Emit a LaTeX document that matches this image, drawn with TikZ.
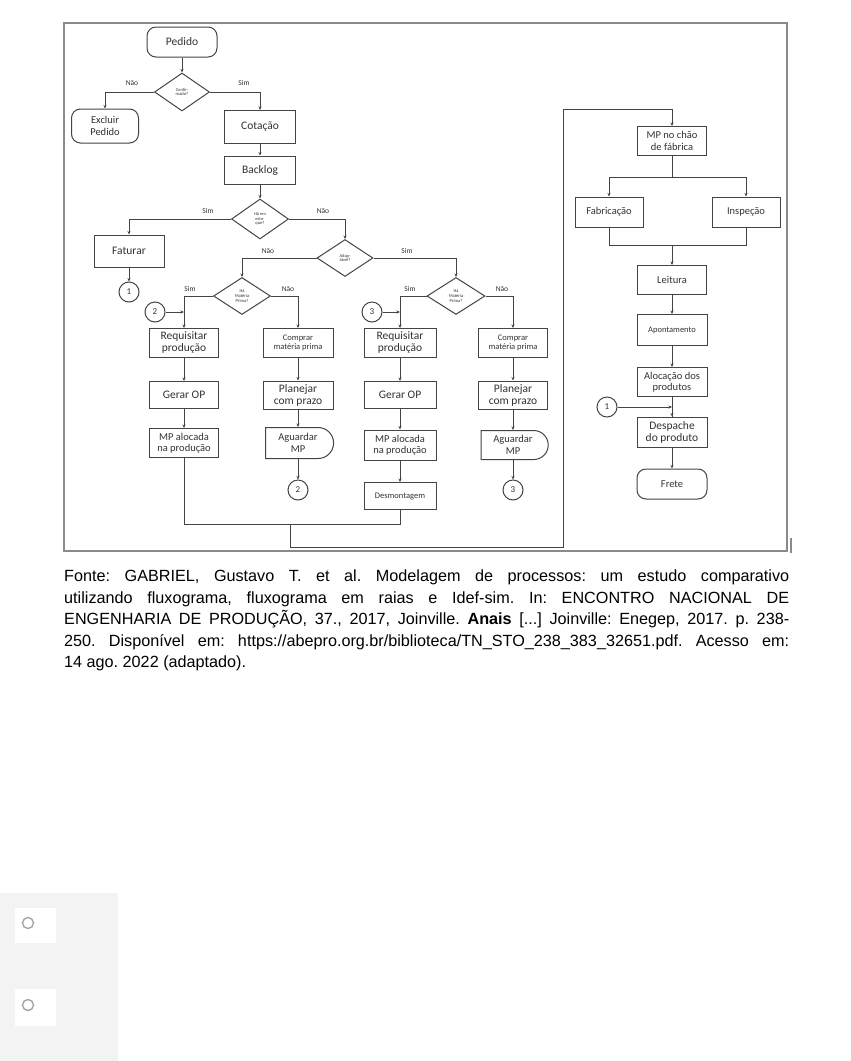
\documentclass[tikz,border=0pt]{standalone}
\usepackage{fontspec}
\setmainfont{Liberation Sans}
\newfontfamily\carl{Carlito}
\usetikzlibrary{shapes.geometric,shapes.misc,arrows.meta}
\definecolor{linec}{HTML}{444444}
\definecolor{txt}{HTML}{333333}
\definecolor{framec}{HTML}{8A8A8A}
\definecolor{panel}{HTML}{F3F3F3}
\frenchspacing
\begin{document}
\begin{tikzpicture}[x=1pt,y=-1pt,
  ln/.style={draw=linec, line width=1pt},
  arr/.style={-{Stealth[length=3.5pt,width=3pt]}},
  box/.style={draw=linec, line width=1pt, rectangle, inner sep=1pt, align=center, text=txt,
              font=\carl\fontsize{11.5}{12}\selectfont},
  term/.style={box, rounded corners=9pt},
  delaybox/.style={box, rounded rectangle, rounded rectangle west arc=none},
  dia/.style={draw=linec, line width=1pt, diamond, inner sep=0pt, align=center, text=txt,
              font=\carl\fontsize{4.5}{4.8}\selectfont},
  conn/.style={draw=linec, line width=1pt, circle, minimum size=20pt, inner sep=0pt, text=txt,
               font=\carl\fontsize{9}{9}\selectfont},
  lab/.style={font=\carl\fontsize{7.5}{7.5}\selectfont, text=txt, inner sep=0pt},
  small/.style={font=\carl\fontsize{8.5}{9.5}\selectfont},
  mid/.style={font=\carl\fontsize{10.5}{11.5}\selectfont}
]
\useasboundingbox (0,0) rectangle (851,1061);
\fill[white] (0,0) rectangle (851,1061);

% frame
\draw[framec, line width=1.3pt] (64,23) rectangle (787,551);
\draw[framec, line width=1.1pt] (791,538) -- (791,553);

% left part
\node[term, minimum width=70pt, minimum height=30pt] (ped) at (182,42) {Pedido};
\node[dia, minimum width=55pt, minimum height=38pt] (d1) at (182,92) {Confir-\\mado?};
\node[term, mid, minimum width=67pt, minimum height=34pt] (exc) at (105,126) {Excluir\\Pedido};
\node[box, minimum width=71pt, minimum height=33pt] (cot) at (260,127) {Cotação};
\node[box, minimum width=71pt, minimum height=28pt] (back) at (260,170) {Backlog};
\node[dia, minimum width=57pt, minimum height=40pt] (d2) at (260,219) {Há em\\esto-\\que?};
\node[dia, minimum width=56pt, minimum height=37pt] (d3) at (345,258) {Adap-\\tável?};
\node[box, minimum width=70pt, minimum height=32pt] (fat) at (129,251) {Faturar};
\node[conn] (c1) at (129,292) {1};
\node[dia, minimum width=57pt, minimum height=37pt] (d4) at (242,296) {Há\\Matéria\\Prima?};
\node[dia, minimum width=58pt, minimum height=37pt] (d5) at (456,296) {Há\\Matéria\\Prima?};
\node[conn] (c2a) at (155,312) {2};
\node[conn] (c3a) at (372,312) {3};

\node[box, minimum width=69pt, minimum height=29pt] (req1) at (184,343) {Requisitar\\produção};
\node[box, minimum width=69pt, minimum height=27pt] (ger1) at (184,395) {Gerar OP};
\node[box, mid, minimum width=69pt, minimum height=29pt] (mp1) at (184,443) {MP alocada\\na produção};
\node[box, small, minimum width=70pt, minimum height=29pt] (com1) at (298,343) {Comprar\\matéria prima};
\node[box, minimum width=70pt, minimum height=28pt] (pla1) at (298,395) {Planejar\\com prazo};
\node[delaybox, mid, minimum width=70pt, minimum height=31pt] (agu1) at (298,443) {Aguardar\\MP};
\node[conn] (c2b) at (298,490) {2};

\node[box, minimum width=72pt, minimum height=29pt] (req2) at (400,343) {Requisitar\\produção};
\node[box, minimum width=72pt, minimum height=27pt] (ger2) at (400,395) {Gerar OP};
\node[box, mid, minimum width=72pt, minimum height=30pt] (mp2) at (400,445) {MP alocada\\na produção};
\node[box, small, minimum width=72pt, minimum height=27pt] (desm) at (400,496) {Desmontagem};
\node[box, small, minimum width=69pt, minimum height=29pt] (com2) at (513,343) {Comprar\\matéria prima};
\node[box, minimum width=69pt, minimum height=28pt] (pla2) at (513,395) {Planejar\\com prazo};
\node[delaybox, mid, minimum width=69pt, minimum height=29pt] (agu2) at (513,445) {Aguardar\\MP};
\node[conn] (c3b) at (513,490) {3};

% labels
\node[lab] (l1) at (132,83) {Não};
\node[lab] (l2) at (244,83) {Sim};
\node[lab] (l3) at (208,211) {Sim};
\node[lab] (l4) at (323,211) {Não};
\node[lab] (l5) at (268,251) {Não};
\node[lab] (l6) at (407,251) {Sim};
\node[lab] (l7) at (190,289) {Sim};
\node[lab] (l8) at (288,289) {Não};
\node[lab] (l9) at (410,289) {Sim};
\node[lab] (l10) at (502,289) {Não};

% right part
\node[box, mid, minimum width=69pt, minimum height=29pt] (mpc) at (672,141) {MP no chão\\de fábrica};
\node[box, mid, minimum width=68pt, minimum height=30pt] (fab) at (609,212) {Fabricação};
\node[box, mid, minimum width=68pt, minimum height=30pt] (insp) at (746,212) {Inspeção};
\node[box, mid, minimum width=69pt, minimum height=29pt] (leit) at (672,280) {Leitura};
\node[box, small, minimum width=70pt, minimum height=31pt] (apon) at (672,330) {Apontamento};
\node[box, mid, minimum width=70pt, minimum height=29pt] (aloc) at (672,382) {Alocação dos\\produtos};
\node[conn] (c1b) at (607,407) {1};
\node[box, minimum width=70pt, minimum height=30pt] (desp) at (672,432) {Despache\\do produto};
\node[term, mid, minimum width=70pt, minimum height=30pt] (frete) at (672,484) {Frete};

% connectors left
\draw[ln,arr] (ped) -- (d1);
\draw[ln,arr] (d1.west) -| (exc.north);
\draw[ln,arr] (d1.east) -| (cot.north);
\draw[ln,arr] (cot) -- (back);
\draw[ln,arr] (back) -- (d2);
\draw[ln,arr] (d2.west) -| (fat.north);
\draw[ln,arr] (d2.east) -| (d3.north);
\draw[ln,arr] (fat) -- (c1);
\draw[ln,arr] (d3.west) -| (d4.north);
\draw[ln,arr] (d3.east) -| (d5.north);
\draw[ln,arr] (d4.west) -| (req1.north);
\draw[ln,arr] (d4.east) -| (com1.north);
\draw[ln,arr] (d5.west) -| (req2.north);
\draw[ln,arr] (d5.east) -| (com2.north);
\coordinate (p2) at (184,312);
\coordinate (p3) at (400,312);
\draw[ln,arr] (c2a) -- (p2);
\draw[ln,arr] (c3a) -- (p3);
\draw[ln,arr] (req1) -- (ger1);
\draw[ln,arr] (ger1) -- (mp1);
\draw[ln,arr] (com1) -- (pla1);
\draw[ln,arr] (pla1) -- (agu1.north -| pla1);
\draw[ln,arr] (agu1.south -| c2b) -- (c2b);
\draw[ln,arr] (req2) -- (ger2);
\draw[ln,arr] (ger2) -- (mp2);
\draw[ln,arr] (mp2) -- (desm);
\draw[ln,arr] (com2) -- (pla2);
\draw[ln,arr] (pla2) -- (agu2.north -| pla2);
\draw[ln,arr] (agu2.south -| c3b) -- (c3b);

% merge and link to right part
\coordinate (j) at (290,524);
\coordinate (k1) at (290,547);
\coordinate (k2) at (563,547);
\coordinate (k3) at (563,109);
\draw[ln] (mp1.south) |- (j);
\draw[ln] (desm.south) |- (j);
\draw[ln,arr] (j) -- (k1) -- (k2) -- (k3) -| (mpc.north);

% connectors right
\coordinate (s) at (672,177);
\coordinate (t) at (672,245);
\coordinate (p1) at (672,407);
\draw[ln] (mpc) -- (s);
\draw[ln,arr] (s) -| (fab.north);
\draw[ln,arr] (s) -| (insp.north);
\draw[ln] (fab.south) |- (t);
\draw[ln] (insp.south) |- (t);
\draw[ln,arr] (t) -- (leit.north);
\draw[ln,arr] (leit) -- (apon);
\draw[ln,arr] (apon) -- (aloc);
\draw[ln] (aloc) -- (desp);
\draw[ln,arr] (c1b) -- (p1);
\draw[ln,arr] (p1) -- (desp.north);
\draw[ln,arr] (desp) -- (frete);

% caption
\node[anchor=north west, inner sep=0pt, text width=725pt, align=justify, text=black,
      font=\fontsize{16.2}{21.5}\selectfont] (cap) at (64,570)
{Fonte: GABRIEL, Gustavo T. et al. Modelagem de processos: um estudo comparativo\linebreak
utilizando fluxograma, fluxograma em raias e Idef-sim. In: ENCONTRO NACIONAL DE\linebreak
ENGENHARIA DE PRODUÇÃO, 37., 2017, Joinville. \textbf{Anais} [...] Joinville: Enegep, 2017. p. 238-\linebreak
250. Disponível em: https://abepro.org.br/biblioteca/TN\_STO\_238\_383\_32651.pdf. Acesso em:\linebreak
14 ago. 2022 (adaptado).};

% bottom panel
\fill[panel] (0,893) rectangle (118,1061);
\fill[white] (15,908) rectangle (56,943);
\fill[white] (15,989) rectangle (56,1026);
\node[draw=gray!70, line width=1.4pt, circle, minimum size=11pt, inner sep=0pt] (r1) at (28,923) {};
\node[draw=gray!70, line width=1.4pt, circle, minimum size=11pt, inner sep=0pt] (r2) at (28,1005) {};
\end{tikzpicture}
\end{document}
